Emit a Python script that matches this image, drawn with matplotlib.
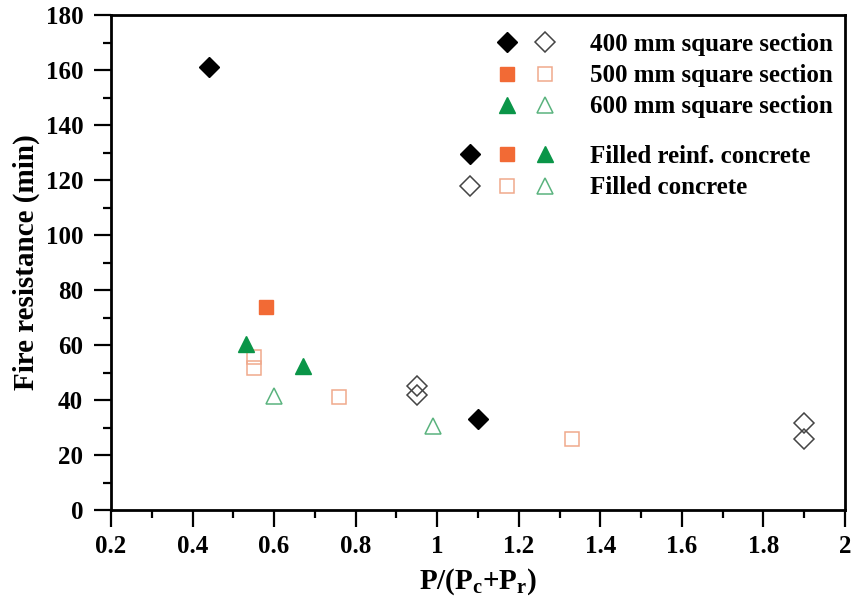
import matplotlib
matplotlib.use("Agg")
import matplotlib.pyplot as plt
from matplotlib.lines import Line2D
from matplotlib.legend_handler import HandlerTuple
from matplotlib.ticker import MultipleLocator, FuncFormatter

plt.rcParams['font.family'] = ['Liberation Serif', 'DejaVu Serif']
plt.rcParams['font.weight'] = 'bold'
plt.rcParams['mathtext.fontset'] = 'custom'
plt.rcParams['mathtext.rm'] = 'Liberation Serif:bold'
plt.rcParams['mathtext.bf'] = 'Liberation Serif:bold'
plt.rcParams['mathtext.it'] = 'Liberation Serif:bold'

# data
x400_rc = [0.44, 1.10]
y400_rc = [161, 33]
x400_c = [0.95, 0.95, 1.90, 1.90]
y400_c = [45, 42, 31.5, 26]
x500_rc = [0.58]
y500_rc = [74]
x500_c = [0.55, 0.55, 0.76, 1.33]
y500_c = [55.5, 51.5, 41, 26]
x600_rc = [0.53, 0.67]
y600_rc = [60.5, 52.5]
x600_c = [0.60, 0.99]
y600_c = [41.5, 30.5]

c400 = 'black'
c400o = '#444444'
c500 = '#F26A35'
c500o = '#F0A98C'
c600 = '#0A9548'
c600o = '#5AB37E'

W, H = 853, 602
fig = plt.figure(figsize=(W / 100, H / 100), dpi=100)
ax = fig.add_axes([111 / W, 1 - 510 / H, (845 - 111) / W, (510 - 15) / H])

msD, msS, msT = 10, 10, 11
ax.plot(x400_rc, y400_rc, 'D', color=c400, ms=msD, ls='none')
ax.plot(x400_c, y400_c, 'D', mfc='none', mec=c400o, mew=1.1, ms=msD, ls='none')
ax.plot(x500_rc, y500_rc, 's', color=c500, ms=msS, ls='none')
ax.plot(x500_c, y500_c, 's', mfc='none', mec=c500o, mew=1.1, ms=msS, ls='none')
ax.plot(x600_rc, y600_rc, '^', color=c600, ms=msT, ls='none')
ax.plot(x600_c, y600_c, '^', mfc='none', mec=c600o, mew=1.1, ms=msT, ls='none')

ax.set_xlim(0.2, 2.0)
ax.set_ylim(0, 180)
ax.xaxis.set_major_locator(MultipleLocator(0.2))
ax.xaxis.set_minor_locator(MultipleLocator(0.1))
ax.yaxis.set_major_locator(MultipleLocator(20))
ax.yaxis.set_minor_locator(MultipleLocator(10))
ax.xaxis.set_major_formatter(FuncFormatter(lambda v, p: '%g' % round(v, 2)))
ax.tick_params(which='major', direction='out', length=12, width=1.6, labelsize=18, pad=6)
ax.tick_params(axis='y', which='major', pad=8)
ax.tick_params(which='minor', direction='out', length=6, width=1.6)
for s in ax.spines.values():
    s.set_linewidth(2)
for lab in ax.get_xticklabels() + ax.get_yticklabels():
    lab.set_fontweight('bold')

ax.set_xlabel(r'P/(P$_{\mathrm{c}}$+P$_{\mathrm{r}}$)', fontsize=21, fontweight='bold', labelpad=6)
ax.set_ylabel('Fire resistance (min)', fontsize=21, fontweight='bold', labelpad=4)

blank = Line2D([], [], ls='none', marker='')
def mk(m, filled, fc, ec, size):
    if filled:
        return Line2D([], [], ls='none', marker=m, color=fc, ms=size)
    return Line2D([], [], ls='none', marker=m, mfc='none', mec=ec, mew=1.1, ms=size)

h1 = [
    (blank, mk('D', True, c400, c400, msD), mk('D', False, c400, c400o, msD)),
    (blank, mk('s', True, c500, c500, msS), mk('s', False, c500, c500o, msS)),
    (blank, mk('^', True, c600, c600, msT), mk('^', False, c600, c600o, msT)),
]
l1 = ['400 mm square section', '500 mm square section', '600 mm square section']
h2 = [
    (mk('D', True, c400, c400, msD), mk('s', True, c500, c500, msS), mk('^', True, c600, c600, msT)),
    (mk('D', False, c400, c400o, msD), mk('s', False, c500, c500o, msS), mk('^', False, c600, c600o, msT)),
]
l2 = ['Filled reinf. concrete', 'Filled concrete']

fs = 18
em = fs * 100 / 72.0
kw = dict(handler_map={tuple: HandlerTuple(ndivide=None, pad=0)},
          frameon=False, handlelength=112.5 / em, handletextpad=26 / em,
          labelspacing=0.33, borderpad=0, borderaxespad=0,
          loc='upper left', bbox_transform=fig.transFigure,
          prop={'family': 'Liberation Serif', 'weight': 'bold', 'size': fs})
leg1 = ax.legend(h1, l1, bbox_to_anchor=(451 / W, 1 - 33 / H), **kw)
ax.add_artist(leg1)
leg2 = ax.legend(h2, l2, bbox_to_anchor=(451 / W, 1 - 145 / H), **kw)

fig.savefig('out.png', dpi=100)
